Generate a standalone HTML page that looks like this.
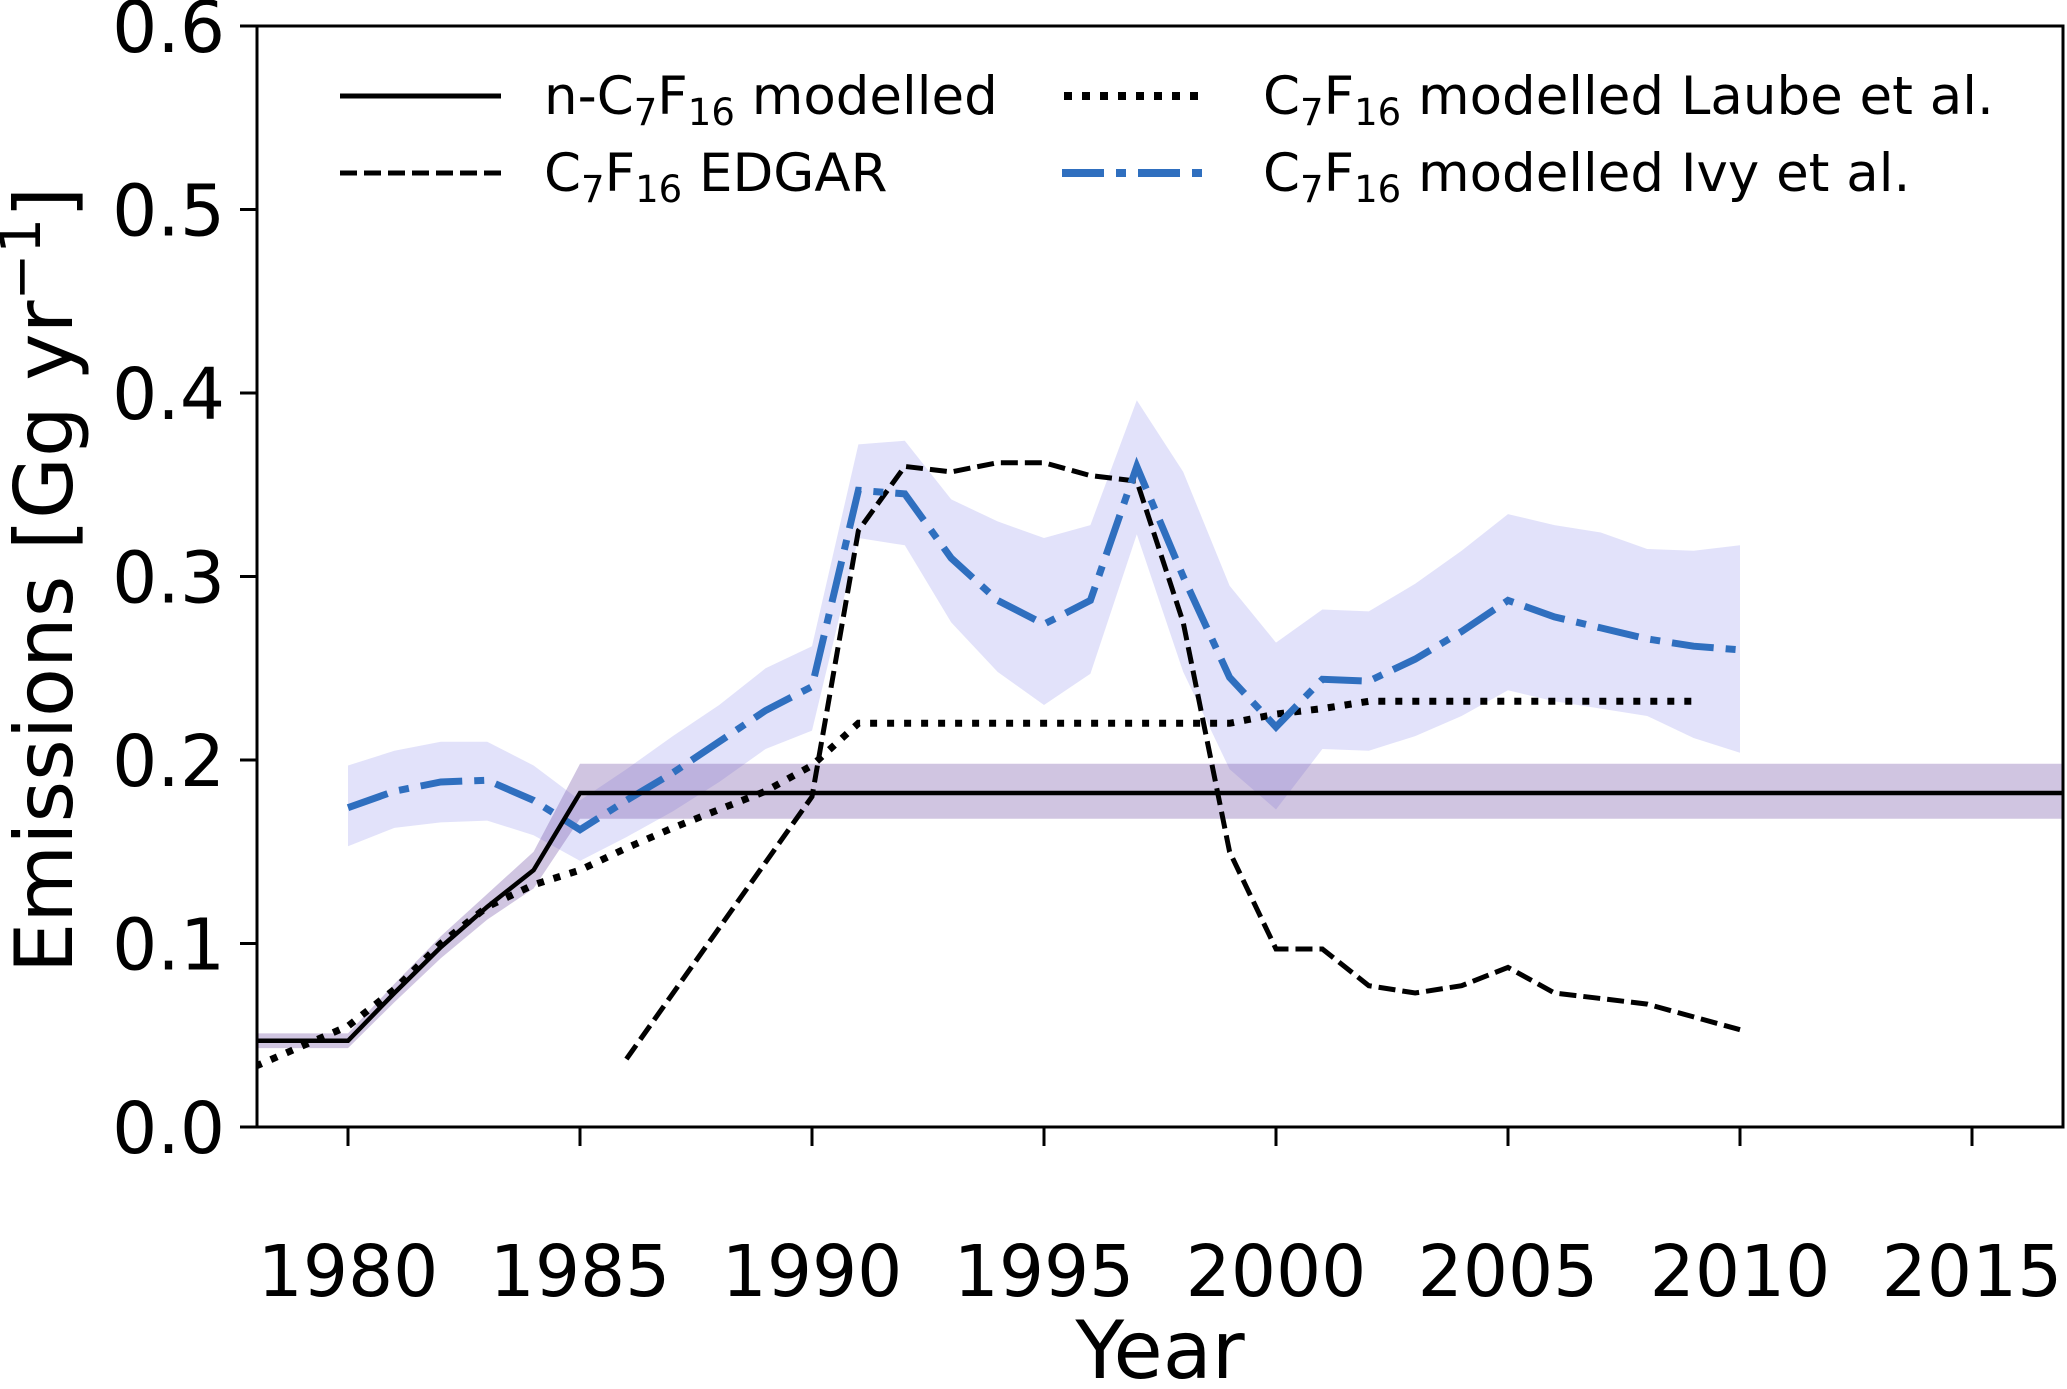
<!DOCTYPE html>
<html><head><meta charset="utf-8"><style>
body{margin:0;background:#fff}
svg{display:block;font-family:"DejaVu Sans","Liberation Sans",sans-serif}
</style></head><body>
<svg id="chart" width="2067" height="1389" viewBox="0 0 2067 1389">
<g id="plot"></g>
<rect x="257" y="26" width="1806" height="1101" fill="none" stroke="#000" stroke-width="3"/>
<g id="axes" font-size="71" fill="#000"></g>
<text x="1160" y="1378" font-size="80" text-anchor="middle">Year</text>
<text transform="translate(72,580) rotate(-90)" font-size="80" text-anchor="middle">Emissions [Gg yr<tspan dy="-32" font-size="56">−1</tspan><tspan dy="32">]</tspan></text>
<g font-size="53">
<g><line x1="340" y1="96" x2="501" y2="96" stroke="#000" stroke-width="5"/><text x="544" y="114">n-C<tspan font-size="37" dy="11">7</tspan><tspan dy="-11">F</tspan><tspan font-size="37" dy="11">16</tspan><tspan dy="-11"> modelled</tspan></text></g>
<g><line x1="340" y1="173" x2="501" y2="173" stroke="#000" stroke-width="5" stroke-dasharray="17,7"/><text x="544" y="191">C<tspan font-size="37" dy="11">7</tspan><tspan dy="-11">F</tspan><tspan font-size="37" dy="11">16</tspan><tspan dy="-11"> EDGAR</tspan></text></g>
<g><line x1="1064" y1="96" x2="1206" y2="96" stroke="#000" stroke-width="8" stroke-dasharray="8,10"/><text x="1263" y="114">C<tspan font-size="37" dy="11">7</tspan><tspan dy="-11">F</tspan><tspan font-size="37" dy="11">16</tspan><tspan dy="-11"> modelled Laube et al.</tspan></text></g>
<g><line x1="1062" y1="173" x2="1206" y2="173" stroke="#2f6fbf" stroke-width="8" stroke-dasharray="42,12,10,12"/><text x="1263" y="191">C<tspan font-size="37" dy="11">7</tspan><tspan dy="-11">F</tspan><tspan font-size="37" dy="11">16</tspan><tspan dy="-11"> modelled Ivy et al.</tspan></text></g>
</g>
</svg>
<script>
const modelYears=[1978,1980,1981,1982,1983,1984,1985,2017];
const modelVals=[0.047,0.047,0.073,0.098,0.12,0.14,0.182,0.182];
const modelUpper=[0.051,0.051,0.078,0.104,0.127,0.15,0.198,0.198];
const modelLower=[0.043,0.043,0.068,0.092,0.113,0.13,0.168,0.168];
const edgarYears=[1986,1990,1991,1992,1993,1994,1995,1996,1997,1998,1999,2000,2001,2002,2003,2004,2005,2006,2007,2008,2009,2010];
const edgarVals=[0.037,0.18,0.325,0.36,0.357,0.362,0.362,0.355,0.352,0.275,0.15,0.097,0.097,0.077,0.073,0.077,0.087,0.073,0.07,0.067,0.06,0.053];
const laubeYears=[1978,1980,1981,1982,1983,1984,1985,1986,1987,1988,1989,1990,1991,1995,1999,2000,2001,2002,2009];
const laubeVals=[0.033,0.055,0.075,0.1,0.12,0.132,0.14,0.152,0.163,0.173,0.183,0.197,0.22,0.22,0.22,0.225,0.228,0.232,0.232];
const ivyYears=[1980,1981,1982,1983,1984,1985,1986,1987,1988,1989,1990,1991,1992,1993,1994,1995,1996,1997,1998,1999,2000,2001,2002,2003,2004,2005,2006,2007,2008,2009,2010];
const ivyVals=[0.174,0.183,0.188,0.189,0.178,0.162,0.178,0.193,0.21,0.227,0.24,0.347,0.345,0.31,0.287,0.274,0.287,0.36,0.3,0.245,0.218,0.244,0.243,0.255,0.27,0.287,0.278,0.272,0.266,0.262,0.26];
const ivyUpper=[0.197,0.205,0.21,0.21,0.197,0.178,0.195,0.213,0.23,0.25,0.262,0.372,0.374,0.342,0.33,0.321,0.328,0.396,0.357,0.295,0.264,0.282,0.281,0.296,0.314,0.334,0.328,0.324,0.315,0.314,0.317];
const ivyLower=[0.153,0.163,0.166,0.167,0.159,0.145,0.158,0.172,0.188,0.206,0.216,0.321,0.317,0.275,0.248,0.23,0.247,0.323,0.248,0.195,0.173,0.206,0.205,0.213,0.224,0.238,0.232,0.228,0.224,0.212,0.204];
const xTicks=[1980,1985,1990,1995,2000,2005,2010,2015];
const yTicks=[0.0,0.1,0.2,0.3,0.4,0.5,0.6];
const yTickLabels=["0.0","0.1","0.2","0.3","0.4","0.5","0.6"];

const NS="http://www.w3.org/2000/svg";
const X=y=>348+(y-1980)*46.4;
const Y=v=>1127-v*1835;
const plot=document.getElementById('plot'), axes=document.getElementById('axes');
function mk(tag,attrs,parent){const e=document.createElementNS(NS,tag);for(const k in attrs)e.setAttribute(k,attrs[k]);parent.appendChild(e);return e;}
const clip=mk('clipPath',{id:'c'},plot);mk('rect',{x:257,y:26,width:1806,height:1101},clip);
const g=mk('g',{'clip-path':'url(#c)'},plot);
function pts(xs,vs){return xs.map((x,i)=>X(x).toFixed(1)+','+Y(vs[i]).toFixed(1)).join(' ');}
function band(xs,up,lo,fill){return mk('polygon',{points:pts(xs,up)+' '+pts(xs.slice().reverse(),lo.slice().reverse()),fill:fill},g);}
let e;
e=band(ivyYears,ivyUpper,ivyLower,'rgba(190,190,245,0.45)');


e=band(modelYears,modelUpper,modelLower,'rgba(120,90,170,0.35)');


e=mk('polyline',{points:pts(edgarYears,edgarVals),fill:'none',stroke:'#000','stroke-width':5,'stroke-dasharray':'17,7'},g);


e=mk('polyline',{points:pts(laubeYears,laubeVals),fill:'none',stroke:'#000','stroke-width':7,'stroke-dasharray':'7,10'},g);


e=mk('polyline',{points:pts(ivyYears,ivyVals),fill:'none',stroke:'#2f6fbf','stroke-width':7,'stroke-dasharray':'42,12,10,12'},g);


e=mk('polyline',{points:pts(modelYears,modelVals),fill:'none',stroke:'#000','stroke-width':4.5},g);


xTicks.forEach(t=>{
 const l=mk('line',{x1:X(t),x2:X(t),y1:1127,y2:1146,stroke:'#000','stroke-width':3},axes);
 
 
 const tx=mk('text',{x:X(t),y:1296,'text-anchor':'middle'},axes);tx.textContent=t;
 
 
});
yTicks.forEach((t,i)=>{
 const l=mk('line',{x1:240,x2:257,y1:Y(t),y2:Y(t),stroke:'#000','stroke-width':3},axes);
 
 
 const tx=mk('text',{x:225,y:Y(t)+26,'text-anchor':'end'},axes);tx.textContent=yTickLabels[i];
 
 
});
</script>
</body></html>
